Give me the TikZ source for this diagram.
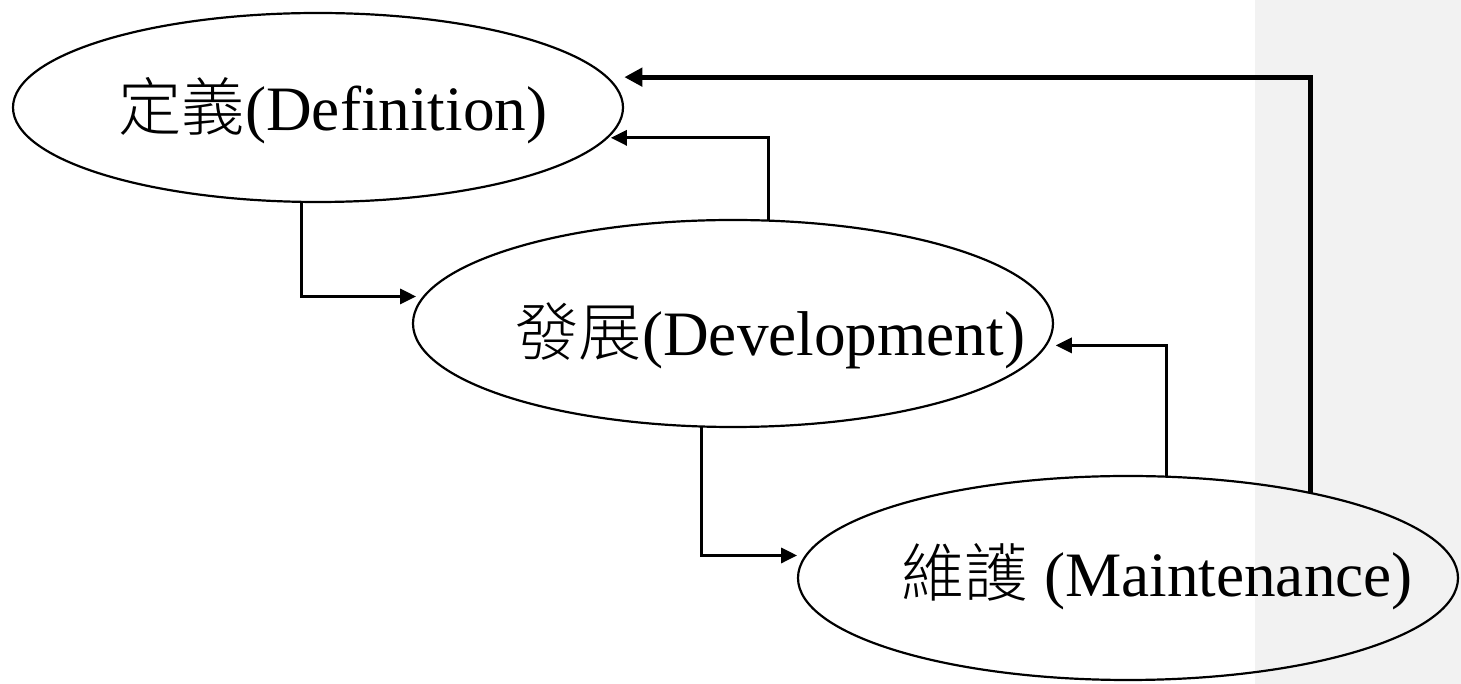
\documentclass[tikz,border=0pt]{standalone}
\usepackage{fontspec}
\setmainfont{Liberation Serif}
\newfontfamily\cjk{Noto Sans CJK TC Light}
\usetikzlibrary{arrows.meta,shapes.geometric}
\definecolor{bandgray}{HTML}{F2F2F2}
\begin{document}
\begin{tikzpicture}[x=0.1mm,y=-0.1mm,
  phase/.style={draw,ellipse,line width=0.22mm,inner sep=0pt,outer sep=0pt},
  caption/.style={anchor=base west,inner sep=0pt,font=\fontsize{18pt}{20pt}\selectfont},
  conn/.style={line width=0.3mm,-{Triangle[length=1.6mm,width=1.5mm]}},
  loopback/.style={line width=0.5mm,-{Triangle[length=1.8mm,width=1.8mm]}}]
  \useasboundingbox (0,0) rectangle (1461,684);
  % right-hand shaded band
  \fill[bandgray] (1255,0) rectangle (1461,684);
  % the three phases
  \node[phase,minimum width=61mm,minimum height=18.9mm] (def) at (318,107.5) {};
  \node[phase,minimum width=64mm,minimum height=20.7mm] (dev) at (733,323.5) {};
  \node[phase,minimum width=66mm,minimum height=20.4mm] (mnt) at (1128,578) {};
  \node[caption] (deft) at (118,131) {{\cjk 定義}(Definition)};
  \node[caption] (devt) at (515,356) {{\cjk 發展}(Development)};
  \node[caption] (mntt) at (901,597) {{\cjk 維護} (Maintenance)};
  % forward flow
  \draw[conn,shorten >=0.8mm] (def.260.4) |- (dev.175.7);
  \draw[conn,shorten >=0.9mm] (dev.253.25) |- (mnt.176.1);
  % feedback paths
  \draw[conn,shorten >=0.4mm] (dev.71.7) |- (def.-6.7);
  \draw[conn,shorten >=1.0mm] (mnt.69.4) |- (dev.-4.5);
  \draw[loopback,shorten >=1.75mm] (mnt.25) |- (def.6.25);
\end{tikzpicture}
\end{document}
